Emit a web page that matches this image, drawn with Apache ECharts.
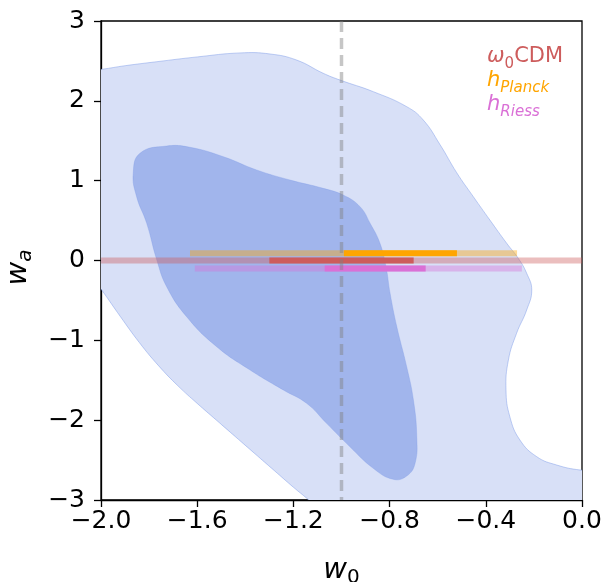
<!DOCTYPE html>
<html>
<head>
<meta charset="utf-8">
<script src="https://cdn.jsdelivr.net/npm/echarts@6/dist/echarts.min.js"></script>
<style>
html,body{margin:0;padding:0;background:#fff;}
#chart{width:603px;height:582px;}
</style>
</head>
<body>
<div id="chart"></div>
<script>
// ---- data ----
const xTicks = [-2.0, -1.6, -1.2, -0.8, -0.4, 0.0];
const yTicks = [-3, -2, -1, 0, 1, 2, 3];

// 95% (outer) credible region in (w0, wa)
const outerContour = [
  [-1.997, 2.395], [-1.9, 2.44], [-1.768, 2.49], [-1.6, 2.55], [-1.422, 2.60],
  [-1.297, 2.587], [-1.186, 2.51], [-1.076, 2.345], [-1.006, 2.26], [-0.868, 2.115],
  [-0.729, 1.927], [-0.66, 1.76], [-0.59, 1.45], [-0.521, 1.10], [-0.452, 0.80],
  [-0.383, 0.507], [-0.313, 0.215], [-0.265, 0.027], [-0.23, -0.16], [-0.209, -0.37],
  [-0.23, -0.62], [-0.272, -0.912], [-0.306, -1.246], [-0.316, -1.622], [-0.30, -1.957],
  [-0.258, -2.249], [-0.188, -2.458], [-0.105, -2.562], [-0.008, -2.624], [0.1, -2.64],
  [0.1, -3.1], [-1.10, -3.1], [-1.14, -2.99], [-1.20, -2.84], [-1.28, -2.63],
  [-1.36, -2.42], [-1.44, -2.21], [-1.52, -2.00], [-1.60, -1.79], [-1.68, -1.57],
  [-1.76, -1.32], [-1.84, -1.03], [-1.92, -0.70], [-1.997, -0.37],
  [-2.1, 0.05], [-2.1, 2.36]
];
// 68% (inner) credible region
const innerContour = [
  [-1.866, 1.092], [-1.838, 1.343], [-1.727, 1.434], [-1.63, 1.418], [-1.491, 1.30],
  [-1.353, 1.134], [-1.214, 1.008], [-1.076, 0.904], [-0.993, 0.82], [-0.923, 0.674],
  [-0.881, 0.466], [-0.84, 0.215], [-0.815, -0.078], [-0.798, -0.41], [-0.77, -0.83],
  [-0.729, -1.33], [-0.701, -1.747], [-0.687, -2.207], [-0.694, -2.54], [-0.729, -2.70],
  [-0.785, -2.741], [-0.868, -2.603], [-0.965, -2.333], [-1.062, -2.04], [-1.145, -1.789],
  [-1.242, -1.622], [-1.38, -1.372], [-1.519, -1.08], [-1.644, -0.704], [-1.727, -0.328],
  [-1.768, 0.006], [-1.81, 0.466], [-1.852, 0.80]
];

// horizontal interval bars: [start, end] along w0, and wa level
const cdmLevel = 0.0;
const cdmWide = [-2.0, 0.0];
const cdmNarrow = [-1.30, -0.70];
const planckLevel = 0.09;
const planckWide = [-1.63, -0.27];
const planckNarrow = [-0.99, -0.52];
const riessLevel = -0.10;
const riessWide = [-1.61, -0.25];
const riessNarrow = [-1.07, -0.65];

// reference w0 = -1
const w0Ref = -1.0;
const waRange = [-3, 3];

// ---- chart ----
const chart = echarts.init(document.getElementById('chart'), null, {renderer: 'canvas'});
const FONT = 'DejaVu Sans';

function polygonSeries(points, fill, stroke, z) {
  return {
    type: 'custom',
    coordinateSystem: 'cartesian2d',
    clip: true,
    silent: true,
    z: z,
    data: points,
    renderItem: function (params, api) {
      if (params.dataIndex !== 0) return null;
      return {
        type: 'polygon',
        shape: { points: points.map(p => api.coord(p)), smooth: 0.45 },
        style: { fill: fill, stroke: stroke, lineWidth: 1 }
      };
    }
  };
}

function barSeries(range, level, color, opacity, z) {
  return {
    type: 'line',
    data: [[range[0], level], [range[1], level]],
    showSymbol: false,
    symbol: 'none',
    silent: true,
    z: z,
    lineStyle: { width: 6, color: color, opacity: opacity, cap: 'butt' },
    animation: false
  };
}

const ORANGE = '#FFA500', RED = '#CD5C5C', PINK = '#DA70D6';

const option = {
  animation: false,
  backgroundColor: '#fff',
  grid: { left: 101, right: 21, top: 21, bottom: 82, containLabel: false, outerBoundsMode: 'none',
          show: true, borderColor: '#000', borderWidth: 1.3, backgroundColor: 'transparent' },
  xAxis: {
    type: 'value', min: -2, max: 0, interval: 0.4,
    name: '{w|w}{s|0}', nameLocation: 'middle', nameGap: 55,
    nameTextStyle: {
      rich: {
        w: { fontFamily: FONT, fontStyle: 'italic', fontSize: 29, lineHeight: 30, color: '#000' },
        s: { fontFamily: FONT, fontSize: 20, lineHeight: 14, padding: [16, 0, 0, 0], color: '#000' }
      }
    },
    axisLine: { show: true, onZero: false, lineStyle: { color: '#000', width: 1.3 } },
    axisTick: { show: true, length: 7, lineStyle: { color: '#000', width: 1.3 } },
    axisLabel: {
      fontFamily: FONT, fontSize: 25, color: '#000', margin: 9,
      formatter: function (v) { const t = (Math.abs(v) < 1e-9 ? 0 : v).toFixed(1); return t.replace('-', '\u2212'); }
    },
    splitLine: { show: false }
  },
  yAxis: {
    type: 'value', min: -3, max: 3, interval: 1,
    name: '{w|w}{s|a}', nameLocation: 'middle', nameGap: 68, nameRotate: 90,
    nameTextStyle: {
      padding: [0, 14, 0, 0],
      rich: {
        w: { fontFamily: FONT, fontStyle: 'italic', fontSize: 29, lineHeight: 30, color: '#000' },
        s: { fontFamily: FONT, fontStyle: 'italic', fontSize: 20, lineHeight: 14, padding: [16, 0, 0, 0], color: '#000' }
      }
    },
    axisLine: { show: true, onZero: false, lineStyle: { color: '#000', width: 1.3 } },
    axisTick: { show: true, length: 7, lineStyle: { color: '#000', width: 1.3 } },
    axisLabel: {
      fontFamily: FONT, fontSize: 25, color: '#000', margin: 16,
      formatter: function (v) { return String(Math.round(v)).replace('-', '\u2212'); }
    },
    splitLine: { show: false }
  },
  graphic: [{
    type: 'text', left: 487, top: 41, z: 100,
    style: {
      text: '{c|ω}{cs|0}{c2|CDM}\n{p|h}{ps|Planck}\n{r|h}{rs|Riess}',
      rich: {
        c: { fontFamily: FONT, fontStyle: 'italic', fontSize: 21, lineHeight: 24, fill: RED },
        cs: { fontFamily: FONT, fontSize: 15, lineHeight: 8, padding: [16, 0, 0, 0], fill: RED },
        c2: { fontFamily: FONT, fontSize: 21, lineHeight: 24, fill: RED },
        p: { fontFamily: FONT, fontStyle: 'italic', fontSize: 21, lineHeight: 24, fill: ORANGE },
        ps: { fontFamily: FONT, fontStyle: 'italic', fontSize: 15, lineHeight: 8, padding: [16, 0, 0, 0], fill: ORANGE },
        r: { fontFamily: FONT, fontStyle: 'italic', fontSize: 21, lineHeight: 24, fill: PINK },
        rs: { fontFamily: FONT, fontStyle: 'italic', fontSize: 15, lineHeight: 8, padding: [16, 0, 0, 0], fill: PINK }
      }
    }
  }],
  series: [
    polygonSeries(outerContour, '#d8e0f7', 'rgba(120,150,230,0.45)', 1),
    polygonSeries(innerContour, '#a1b5ec', 'rgba(120,150,230,0.3)', 2),
    barSeries(cdmWide, cdmLevel, RED, 0.4, 3),
    barSeries(planckWide, planckLevel, ORANGE, 0.4, 3),
    barSeries(riessWide, riessLevel, PINK, 0.4, 3),
    barSeries(cdmNarrow, cdmLevel, RED, 1, 4),
    barSeries(planckNarrow, planckLevel, ORANGE, 1, 4),
    barSeries(riessNarrow, riessLevel, PINK, 1, 4),
    {
      type: 'line',
      data: [[w0Ref, waRange[1]], [w0Ref, waRange[0]]],
      showSymbol: false, symbol: 'none', silent: true, z: 5,
      lineStyle: { width: 3.5, color: 'rgba(128,128,128,0.45)', type: [11, 6], cap: 'butt' }
    }
  ]
};
chart.setOption(option);
</script>
</body>
</html>
